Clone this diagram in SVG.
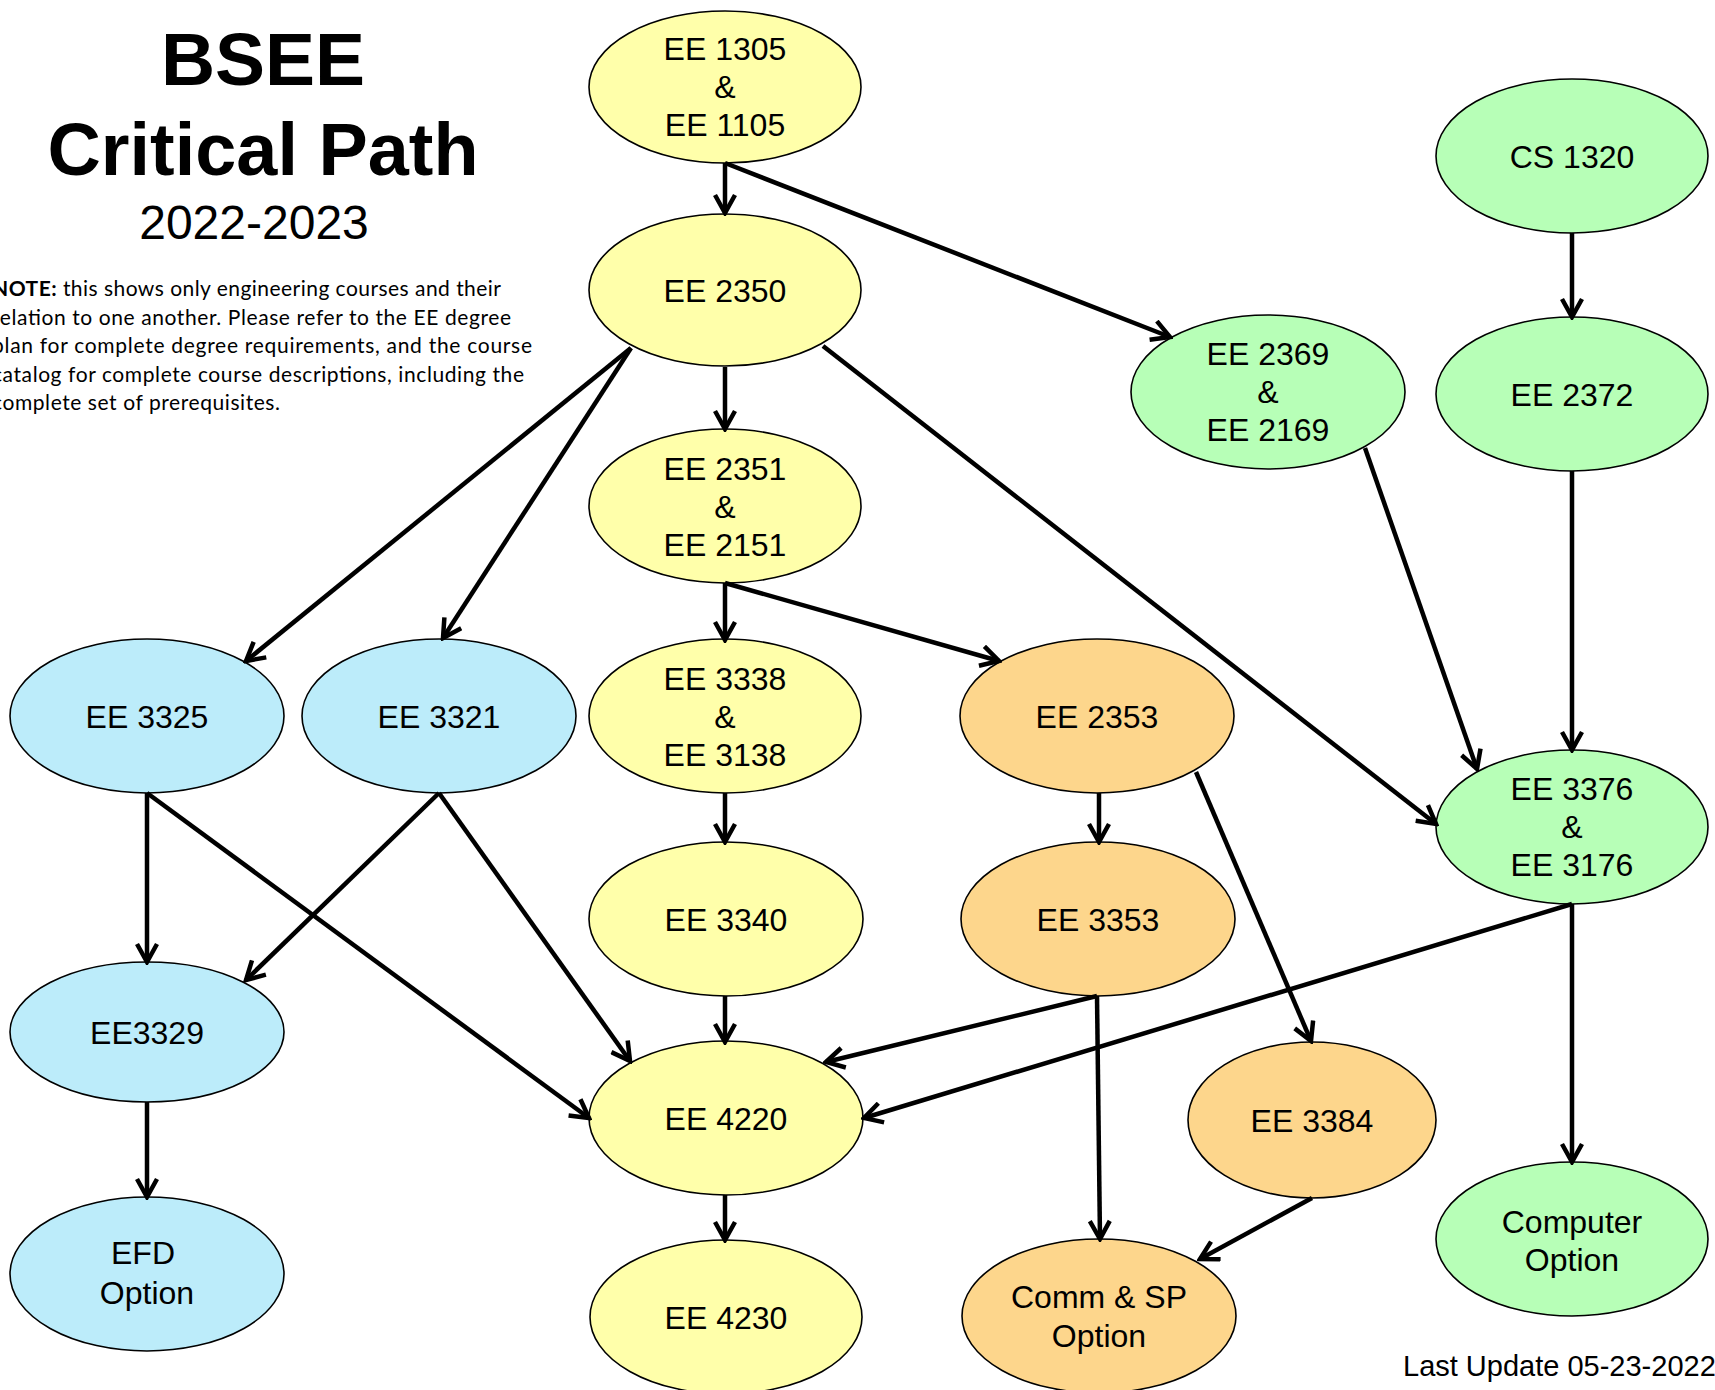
<svg xmlns="http://www.w3.org/2000/svg" width="1715" height="1390" viewBox="0 0 1715 1390">
<style>
.n{stroke:#000;stroke-width:1.6}
.y{fill:#FFFFAA}
.b{fill:#BCECFA}
.g{fill:#B7FFB7}
.o{fill:#FDD68C}
.t{font-family:"Liberation Sans",Arial,sans-serif;font-size:32px;fill:#000;text-anchor:middle}
.e{stroke:#000;stroke-width:4.5;fill:none;marker-end:url(#ah)}
.note{font-family:Lato,"Noto Sans",sans-serif;font-size:21px;fill:#000}
</style>
<defs>
<marker id="ah" viewBox="0 0 24 24" refX="21" refY="12" markerWidth="24" markerHeight="24" markerUnits="userSpaceOnUse" orient="auto">
<path d="M3,2 L21,12 L3,22" fill="none" stroke="#000" stroke-width="4.5" stroke-linejoin="miter"/>
</marker>
</defs>
<rect width="1715" height="1390" fill="#fff"/>
<g id="title">
<text x="263" y="85" font-family="Liberation Sans,Arial,sans-serif" font-weight="bold" font-size="75" text-anchor="middle">BSEE</text>
<text x="263" y="175" font-family="Liberation Sans,Arial,sans-serif" font-weight="bold" font-size="75" text-anchor="middle" textLength="431" lengthAdjust="spacingAndGlyphs">Critical Path</text>
<text x="254" y="239" font-family="Liberation Sans,Arial,sans-serif" font-size="48" text-anchor="middle">2022-2023</text>
</g>
<g id="note" class="note">
<text x="-8" y="296" textLength="509" lengthAdjust="spacing"><tspan font-weight="bold">NOTE:</tspan> this shows only engineering courses and their</text>
<text x="-8" y="325" textLength="519" lengthAdjust="spacing">relation to one another. Please refer to the EE degree</text>
<text x="-8" y="353" textLength="540" lengthAdjust="spacing">plan for complete degree requirements, and the course</text>
<text x="-8" y="382" textLength="532" lengthAdjust="spacing">catalog for complete course descriptions, including the</text>
<text x="-8" y="410" textLength="288" lengthAdjust="spacing">complete set of prerequisites.</text>
</g>
<g id="ee1305"><ellipse class="n y" cx="725" cy="87" rx="136" ry="76"/><text class="t" x="725" y="60">EE 1305</text><text class="t" x="725" y="98">&amp;</text><text class="t" x="725" y="136">EE 1105</text></g>
<g id="ee2350"><ellipse class="n y" cx="725" cy="290" rx="136" ry="76"/><text class="t" x="725" y="302">EE 2350</text></g>
<g id="ee2351"><ellipse class="n y" cx="725" cy="506" rx="136" ry="77"/><text class="t" x="725" y="480">EE 2351</text><text class="t" x="725" y="518">&amp;</text><text class="t" x="725" y="556">EE 2151</text></g>
<g id="ee3338"><ellipse class="n y" cx="725" cy="716" rx="136" ry="77"/><text class="t" x="725" y="690">EE 3338</text><text class="t" x="725" y="728">&amp;</text><text class="t" x="725" y="766">EE 3138</text></g>
<g id="ee3340"><ellipse class="n y" cx="726" cy="919" rx="137" ry="77"/><text class="t" x="726" y="931">EE 3340</text></g>
<g id="ee4220"><ellipse class="n y" cx="726" cy="1118" rx="137" ry="77"/><text class="t" x="726" y="1130">EE 4220</text></g>
<g id="ee4230"><ellipse class="n y" cx="726" cy="1317" rx="136" ry="77"/><text class="t" x="726" y="1329">EE 4230</text></g>
<g id="ee3325"><ellipse class="n b" cx="147" cy="716" rx="137" ry="77"/><text class="t" x="147" y="728">EE 3325</text></g>
<g id="ee3321"><ellipse class="n b" cx="439" cy="716" rx="137" ry="77"/><text class="t" x="439" y="728">EE 3321</text></g>
<g id="ee3329"><ellipse class="n b" cx="147" cy="1032" rx="137" ry="70"/><text class="t" x="147" y="1044">EE3329</text></g>
<g id="efd"><ellipse class="n b" cx="147" cy="1274" rx="137" ry="77"/><text class="t" x="143" y="1264">EFD</text><text class="t" x="147" y="1304">Option</text></g>
<g id="ee2353"><ellipse class="n o" cx="1097" cy="716" rx="137" ry="77"/><text class="t" x="1097" y="728">EE 2353</text></g>
<g id="ee3353"><ellipse class="n o" cx="1098" cy="919" rx="137" ry="77"/><text class="t" x="1098" y="931">EE 3353</text></g>
<g id="ee3384"><ellipse class="n o" cx="1312" cy="1120" rx="124" ry="78"/><text class="t" x="1312" y="1132">EE 3384</text></g>
<g id="commsp"><ellipse class="n o" cx="1099" cy="1316" rx="137" ry="77"/><text class="t" x="1099" y="1308">Comm &amp; SP</text><text class="t" x="1099" y="1347">Option</text></g>
<g id="ee2369"><ellipse class="n g" cx="1268" cy="392" rx="137" ry="77"/><text class="t" x="1268" y="365">EE 2369</text><text class="t" x="1268" y="403">&amp;</text><text class="t" x="1268" y="441">EE 2169</text></g>
<g id="cs1320"><ellipse class="n g" cx="1572" cy="156" rx="136" ry="77"/><text class="t" x="1572" y="168">CS 1320</text></g>
<g id="ee2372"><ellipse class="n g" cx="1572" cy="394" rx="136" ry="77"/><text class="t" x="1572" y="406">EE 2372</text></g>
<g id="ee3376"><ellipse class="n g" cx="1572" cy="827" rx="136" ry="77"/><text class="t" x="1572" y="800">EE 3376</text><text class="t" x="1572" y="838">&amp;</text><text class="t" x="1572" y="876">EE 3176</text></g>
<g id="computer"><ellipse class="n g" cx="1572" cy="1239" rx="136" ry="77"/><text class="t" x="1572" y="1233">Computer</text><text class="t" x="1572" y="1271">Option</text></g>
<g id="connectors">
<line class="e" x1="725" y1="163" x2="725" y2="213"/>
<line class="e" x1="725" y1="163" x2="1170" y2="337"/>
<line class="e" x1="725" y1="367" x2="725" y2="429"/>
<line class="e" x1="631" y1="348" x2="246" y2="661"/>
<line class="e" x1="631" y1="348" x2="443" y2="638"/>
<line class="e" x1="823" y1="346" x2="1436" y2="824"/>
<line class="e" x1="725" y1="583" x2="725" y2="640"/>
<line class="e" x1="725" y1="583" x2="999" y2="661"/>
<line class="e" x1="725" y1="793" x2="725" y2="842"/>
<line class="e" x1="725" y1="996" x2="725" y2="1042"/>
<line class="e" x1="725" y1="1195" x2="725" y2="1240"/>
<line class="e" x1="147" y1="793" x2="147" y2="962"/>
<line class="e" x1="147" y1="793" x2="589" y2="1118"/>
<line class="e" x1="439" y1="793" x2="246" y2="980"/>
<line class="e" x1="439" y1="793" x2="630" y2="1061"/>
<line class="e" x1="147" y1="1102" x2="147" y2="1197"/>
<line class="e" x1="1099" y1="793" x2="1099" y2="842"/>
<line class="e" x1="1196" y1="772" x2="1311" y2="1041"/>
<line class="e" x1="1097" y1="996" x2="826" y2="1062"/>
<line class="e" x1="1097" y1="996" x2="1100" y2="1239"/>
<line class="e" x1="1312" y1="1198" x2="1200" y2="1259"/>
<line class="e" x1="1572" y1="904" x2="864" y2="1118"/>
<line class="e" x1="1572" y1="904" x2="1572" y2="1162"/>
<line class="e" x1="1365" y1="448" x2="1477" y2="769"/>
<line class="e" x1="1572" y1="233" x2="1572" y2="317"/>
<line class="e" x1="1572" y1="471" x2="1572" y2="750"/>
</g>
<text x="1403" y="1376" font-family="Liberation Sans,Arial,sans-serif" font-size="29">Last Update 05-23-2022</text>
</svg>
